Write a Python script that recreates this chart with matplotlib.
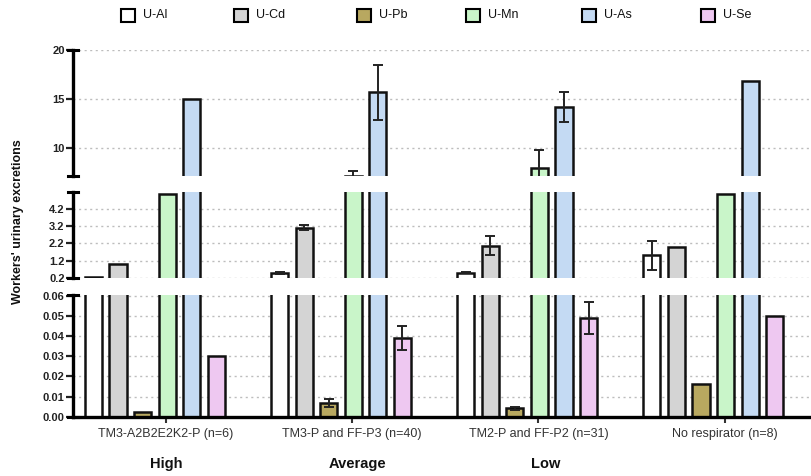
import matplotlib
matplotlib.use("Agg")
import matplotlib.pyplot as plt
import numpy as np
from matplotlib.patches import Rectangle

plt.rcParams['font.family'] = ['Liberation Sans', 'DejaVu Sans']

# ---- data ----
groups = ["TM3-A2B2E2K2-P (n=6)", "TM3-P and FF-P3 (n=40)",
          "TM2-P and FF-P2 (n=31)", "No respirator (n=8)"]
levels = ["High", "Average", "Low"]
series = ["U-Al", "U-Cd", "U-Pb", "U-Mn", "U-As", "U-Se"]

u_al = [0.25, 0.50, 0.50, 1.50]
u_cd = [1.00, 3.10, 2.05, 2.00]
u_pb = [0.0025, 0.0068, 0.0042, 0.0165]
u_mn = [5.05, 7.25, 8.05, 5.05]
u_as = [15.0, 15.7, 14.2, 16.9]
u_se = [0.030, 0.039, 0.049, 0.050]

err_al = [0, 0.05, 0.04, 0.85]
err_cd = [0, 0.15, 0.55, 0]
err_pb = [0, 0.0022, 0.0008, 0]
err_mn = [0, 0.50, 1.75, 0]
err_as = [0, 2.8, 1.5, 0]
err_se = [0, 0.006, 0.008, 0]

values = [u_al, u_cd, u_pb, u_mn, u_as, u_se]
errors = [err_al, err_cd, err_pb, err_mn, err_as, err_se]
colors = ["#ffffff", "#d4d4d4", "#b8a860", "#c9f5c9", "#c4daf3", "#eec8f1"]

# y ticks of the three axis segments
ticks_top = [10, 15, 20]
ticks_mid = [0.2, 1.2, 2.2, 3.2, 4.2]
ticks_bot = [0.00, 0.01, 0.02, 0.03, 0.04, 0.05, 0.06]

# ---- figure ----
W, H = 812, 476
fig = plt.figure(figsize=(W / 100, H / 100), dpi=100)

left = 73 / W
width = 1.0 - left
def frac(ytop_px, ybot_px):
    return [left, 1 - ybot_px / H, width, (ybot_px - ytop_px) / H]

ax_top = fig.add_axes(frac(50, 176))
ax_mid = fig.add_axes(frac(192, 278))
ax_bot = fig.add_axes(frac(295, 416.7))

segments = [
    (ax_top, (7.2, 20), ticks_top, "{:g}"),
    (ax_mid, (0.2, 5.15), ticks_mid, "{:.1f}"),
    (ax_bot, (0.0, 0.0605), ticks_bot, "{:.2f}"),
]

x = np.arange(len(groups))
bar_w = 0.092
offsets = [-0.390, -0.258, -0.126, 0.006, 0.138, 0.270]

for ax, ylim, ticks, fmt in segments:
    for s in range(len(series)):
        xs = x + offsets[s]
        ax.bar(xs, values[s], width=bar_w, color=colors[s],
               edgecolor="#111111", linewidth=1.8, zorder=2)
        yerr = np.array(errors[s])
        mask = yerr > 0
        if mask.any():
            ax.errorbar(xs[mask], np.array(values[s])[mask], yerr=yerr[mask],
                        fmt="none", ecolor="#222222", elinewidth=1.4,
                        capsize=3.5, capthick=1.4, zorder=3)
    ax.set_ylim(*ylim)
    ax.set_xlim(-0.5, 3.47)
    ax.set_yticks(ticks)
    ax.set_yticklabels([fmt.format(t) for t in ticks])
    ax.yaxis.grid(True, linestyle=(0, (1.5, 2.5)), color="#bdbdbd",
                  linewidth=1.0, zorder=0)
    ax.set_axisbelow(True)
    for side in ("top", "right", "bottom"):
        ax.spines[side].set_visible(False)
    ax.spines["left"].set_linewidth(2.4)
    ax.tick_params(axis="y", direction="out", length=5, width=1.6,
                   labelsize=8, colors="#222222", pad=1)
    for lab in ax.get_yticklabels():
        lab.set_fontweight("bold")
    ax.tick_params(axis="x", bottom=False, labelbottom=False)
    ax.patch.set_alpha(0)
    # end caps of each axis segment
    for yy in (0, 1):
        ax.plot([-0.007, 0.007], [yy, yy], transform=ax.transAxes,
                color="black", linewidth=2.2, clip_on=False, zorder=5)

ax_bot.spines["bottom"].set_visible(True)
ax_bot.spines["bottom"].set_linewidth(2.4)
ax_bot.set_xticks(x)
ax_bot.set_xticklabels(groups)
ax_bot.tick_params(axis="x", bottom=True, labelbottom=True, direction="out",
                   length=4, width=1.5, labelsize=9, colors="#333333", pad=4)
for lab in ax_bot.get_xticklabels():
    lab.set_color("#333333")

# protection level beneath each group
level_x = [0.0, 1.03, 2.04]
for lx, name in zip(level_x, levels):
    ax_bot.text(lx, -0.385, name, transform=ax_bot.get_xaxis_transform(),
                ha="center", va="center", fontsize=10.5, fontweight="bold",
                color="#111111")

fig.text(18 / W, 1 - 222 / H, "Workers' urinary excretions", rotation=90,
         ha="center", va="center", fontsize=9, fontweight="bold",
         color="#111111")

# legend row
box_x = [121, 234, 357, 466, 582, 701]
for bx, name, c in zip(box_x, series, colors):
    fig.add_artist(Rectangle((bx / W, 1 - 22 / H), 14 / W, 13 / H,
                             transform=fig.transFigure, facecolor=c,
                             edgecolor="black", linewidth=1.5))
    fig.text((bx + 22) / W, 1 - 15.5 / H, name, ha="left", va="center",
             fontsize=9, color="#111111")

fig.savefig("out.png", dpi=100)
